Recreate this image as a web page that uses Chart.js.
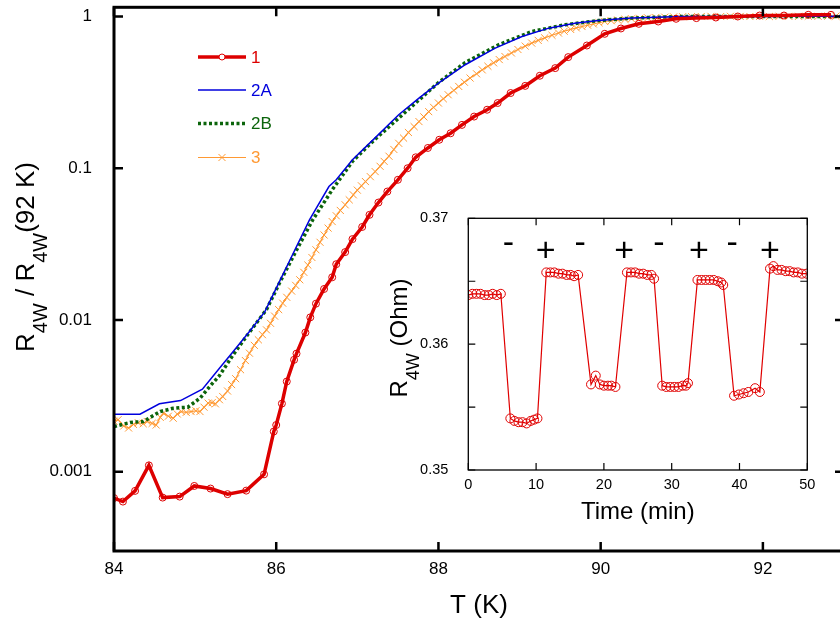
<!DOCTYPE html>
<html>
<head>
<meta charset="utf-8">
<title>R4W vs T</title>
<script src="https://cdn.jsdelivr.net/npm/chart.js@4.4.1/dist/chart.umd.min.js"></script>
<style>
  html, body { margin: 0; padding: 0; background: #fff; }
  #wrap { position: relative; width: 840px; height: 621px; overflow: hidden; background: #fff; }
  #main { position: absolute; left: 0; top: 0; width: 850px; height: 621px; }
  #inset { position: absolute; left: 380px; top: 200px; width: 440px; height: 340px; }
</style>
</head>
<body>
<div id="wrap">
  <canvas id="main" width="850" height="621"></canvas>
  <canvas id="inset" width="440" height="340"></canvas>
</div>
<script>
// ---- main plot: R4W / R4W(92 K) against T ----
const seriesNames = ['1', '2A', '2B', '3'];

const tempRed = [84.00, 84.11, 84.26, 84.43, 84.60, 84.81, 84.99, 85.19, 85.40, 85.63,
    85.85, 85.97, 86.00, 86.07, 86.13, 86.22, 86.25, 86.36, 86.42, 86.49,
    86.59, 86.69, 86.74, 86.85, 86.94, 87.06, 87.15, 87.26, 87.37, 87.50,
    87.62, 87.72, 87.87, 88.01, 88.15, 88.29, 88.44, 88.60, 88.73, 88.89,
    89.07, 89.25, 89.44, 89.60, 89.83, 90.05, 90.25, 90.47, 90.71, 90.93,
    91.18, 91.42, 91.69, 91.96, 92.26, 92.56, 92.84];
const ratioRed = [0.00067, 0.000635, 0.000747, 0.0011, 0.000675, 0.000685, 0.000805, 0.000774, 0.000711, 0.00075,
    0.00096, 0.00184, 0.00203, 0.00281, 0.00393, 0.00546, 0.0060, 0.00826, 0.0104, 0.0128,
    0.0160, 0.0191, 0.0233, 0.028, 0.0341, 0.041, 0.0493, 0.0594, 0.0702, 0.0839,
    0.100, 0.118, 0.136, 0.154, 0.170, 0.193, 0.219, 0.243, 0.269, 0.313,
    0.349, 0.407, 0.457, 0.54, 0.644, 0.769, 0.834, 0.895, 0.927, 0.966,
    0.976, 0.985, 1.0, 1.015, 1.015, 1.026, 1.026];

const tempBlue = [84.00, 84.32, 84.56, 84.82, 85.09, 85.30, 85.47, 85.67, 85.86, 86.04,
    86.18, 86.41, 86.65, 86.74, 86.94, 87.20, 87.51, 87.76, 88.00, 88.33,
    88.70, 89.03, 89.36, 89.68, 89.97, 90.38, 90.99, 91.50, 92.00, 92.50, 93.00];
const ratioBlue = [0.00239, 0.00239, 0.0028, 0.00294, 0.0035, 0.00481, 0.0062, 0.0084, 0.01135, 0.0179,
    0.0255, 0.0457, 0.0757, 0.0839, 0.1136, 0.155, 0.225, 0.290, 0.364, 0.481,
    0.619, 0.738, 0.838, 0.904, 0.94, 0.976, 1.0, 1.0, 1.002, 1.003, 1.003];

const tempGreen = [84.00, 84.20, 84.36, 84.57, 84.73, 84.91, 85.06, 85.18, 85.30, 85.47,
    85.67, 85.88, 86.04, 86.24, 86.45, 86.69, 86.94, 87.20, 87.51, 88.00,
    88.33, 88.74, 89.15, 89.56, 89.97, 90.38, 90.99, 91.50, 92.00, 92.50, 93.00];
const ratioGreen = [0.00198, 0.00211, 0.00214, 0.00249, 0.00262, 0.00266, 0.00305, 0.00364, 0.0043, 0.0059,
    0.0083, 0.0117, 0.0175, 0.0282, 0.0457, 0.072, 0.111, 0.152, 0.214, 0.367,
    0.497, 0.651, 0.796, 0.882, 0.94, 0.976, 1.0, 1.0, 1.0, 1.002, 1.002];

const tempOrange = [84.00, 84.05, 84.12, 84.18, 84.24, 84.30, 84.36, 84.41, 84.47, 84.52,
    84.57, 84.61, 84.67, 84.73, 84.78, 84.83, 84.89, 84.95, 85.01, 85.06,
    85.11, 85.16, 85.21, 85.25, 85.30, 85.34, 85.40, 85.45, 85.50, 85.56,
    85.62, 85.67, 85.73, 85.78, 85.83, 85.88, 85.93, 85.98, 86.03, 86.08,
    86.13, 86.19, 86.24, 86.29, 86.34, 86.39, 86.44, 86.49, 86.54, 86.59,
    86.64, 86.69, 86.74, 86.79, 86.85, 86.90, 86.95, 87.00, 87.05, 87.10,
    87.16, 87.22, 87.28, 87.33, 87.39, 87.45, 87.51, 87.57, 87.63, 87.70,
    87.76, 87.82, 87.88, 87.94, 88.00, 88.06, 88.12, 88.19, 88.25, 88.32,
    88.39, 88.47, 88.54, 88.61, 88.68, 88.75, 88.82, 88.90, 88.98, 89.07,
    89.15, 89.23, 89.31, 89.40, 89.48, 89.55, 89.63, 89.70, 89.77, 89.84,
    89.91, 89.98, 90.05, 90.13, 90.21, 90.30, 90.38, 90.48, 90.58, 90.68,
    90.79, 90.90, 91.01, 91.12, 91.24, 91.36, 91.48, 91.60, 91.72, 91.84,
    91.96, 92.08, 92.20, 92.32, 92.44, 92.56, 92.68, 92.80, 92.90];
const ratioOrange = [0.00215, 0.0022, 0.0020, 0.00194, 0.00205, 0.0021, 0.00207, 0.00214, 0.00208, 0.00203,
    0.00228, 0.00243, 0.00232, 0.00225, 0.0024, 0.00249, 0.00246, 0.00249, 0.00252, 0.00249,
    0.00266, 0.00283, 0.00285, 0.0028, 0.00298, 0.00313, 0.0034, 0.00375, 0.0041, 0.0047,
    0.0054, 0.00604, 0.0068, 0.0074, 0.008, 0.0086, 0.0095, 0.0106, 0.0117, 0.0129,
    0.0141, 0.0155, 0.0169, 0.0184, 0.0206, 0.023, 0.0258, 0.029, 0.0325, 0.0363,
    0.0403, 0.0445, 0.0486, 0.0527, 0.0574, 0.0619, 0.0668, 0.0717, 0.0766, 0.0817,
    0.088, 0.095, 0.103, 0.111, 0.120, 0.133, 0.146, 0.158, 0.172, 0.188,
    0.203, 0.218, 0.236, 0.252, 0.269, 0.287, 0.305, 0.326, 0.346, 0.369,
    0.393, 0.419, 0.445, 0.470, 0.495, 0.520, 0.545, 0.575, 0.606, 0.638,
    0.668, 0.696, 0.723, 0.752, 0.778, 0.800, 0.822, 0.841, 0.859, 0.876,
    0.893, 0.910, 0.927, 0.938, 0.948, 0.958, 0.966, 0.973, 0.979, 0.985,
    0.990, 0.994, 0.997, 0.999, 1.000, 1.002, 1.000, 1.003, 1.001, 1.000,
    1.002, 1.000, 1.004, 1.002, 1.003, 1.005, 1.004, 1.006, 1.005];

const xTicks = [84, 86, 88, 90, 92];
const xTickLabels = ['84', '86', '88', '90', '92'];
const yTicks = [0.001, 0.01, 0.1, 1];
const yTickLabels = ['0.001', '0.01', '0.1', '1'];

// ---- inset: R4W against time, field switched -/+ ----
const insetTime = [0, 0.6, 1.2, 1.8, 2.4, 3.0, 3.6, 4.2, 4.8,
    6.2, 6.8, 7.4, 8.0, 8.6, 9.2, 9.7, 10.2,
    11.5, 12.1, 12.7, 13.3, 13.9, 14.5, 15.1, 15.6, 16.2,
    18.1, 18.8, 19.4, 20.0, 20.6, 21.1, 21.7,
    23.4, 24.0, 24.6, 25.2, 25.8, 26.4, 27.0, 27.4,
    28.6, 29.2, 29.8, 30.4, 31.0, 31.6, 32.1, 32.4,
    33.8, 34.4, 35.0, 35.6, 36.2, 36.8, 37.3, 37.6,
    39.2, 39.9, 40.6, 41.3, 42.3, 43.0,
    44.5, 45.0, 45.6, 46.2, 46.8, 47.4, 48.0, 48.6, 49.2, 49.9];
const insetR = [0.3639, 0.3640, 0.3640, 0.3640, 0.3639, 0.3639, 0.3640, 0.3639, 0.3640,
    0.3541, 0.3539, 0.3538, 0.3538, 0.3537, 0.3539, 0.3540, 0.3541,
    0.3657, 0.3657, 0.3657, 0.3656, 0.3656, 0.3655, 0.3655, 0.3654, 0.3655,
    0.3568, 0.3575, 0.3568, 0.3567, 0.3567, 0.3567, 0.3566,
    0.3657, 0.3657, 0.3657, 0.3656, 0.3656, 0.3655, 0.3655, 0.3652,
    0.3567, 0.3566, 0.3566, 0.3566, 0.3566, 0.3567, 0.3567, 0.3569,
    0.3651, 0.3651, 0.3651, 0.3651, 0.3651, 0.3650, 0.3649, 0.3647,
    0.3559, 0.3560, 0.3561, 0.3562, 0.3565, 0.3562,
    0.3660, 0.3662, 0.3659, 0.3659, 0.3658, 0.3658, 0.3657, 0.3657, 0.3656, 0.3656];

const insetXTicks = [0, 10, 20, 30, 40, 50];
const insetXLabels = ['0', '10', '20', '30', '40', '50'];
const insetYTicks = [0.35, 0.355, 0.36, 0.365, 0.37];
const insetYLabels = ['0.35', '', '0.36', '', '0.37'];
const signTime = [5.9, 11.4, 16.5, 23.0, 28.1, 34.0, 38.9, 44.5];
const signText = ['-', '+', '-', '+', '-', '+', '-', '+'];

const FONT = "'Liberation Sans', Arial, Helvetica, sans-serif";
Chart.defaults.font.family = FONT;
Chart.defaults.color = '#000';

function toPoints(xs, ys) {
    return xs.map((x, i) => ({ x: x, y: ys[i] }));
}

// text with subscripts, rotated to read bottom-to-top, centred on (x, y)
function drawRotatedRich(ctx, parts, x, y, size) {
    const big = size + 'px ' + FONT;
    const small = Math.round(size * 0.75) + 'px ' + FONT;
    ctx.save();
    ctx.translate(x, y);
    ctx.rotate(-Math.PI / 2);
    let total = 0;
    parts.forEach(p => {
        ctx.font = p[1] ? small : big;
        total += ctx.measureText(p[0]).width;
    });
    let cx = -total / 2;
    ctx.fillStyle = '#000';
    ctx.textBaseline = 'alphabetic';
    ctx.textAlign = 'left';
    parts.forEach(p => {
        ctx.font = p[1] ? small : big;
        ctx.fillText(p[0], cx, p[1] ? size * 0.5 : 0);
        cx += ctx.measureText(p[0]).width;
    });
    ctx.restore();
}

// box round the plot with inward ticks on all four sides
const framePlugin = {
    id: 'frame',
    afterDatasetsDraw(chart, args, opts) {
        const { ctx, chartArea: a, scales } = chart;
        ctx.save();
        ctx.strokeStyle = '#000';
        ctx.lineWidth = opts.tickWidth;
        ctx.beginPath();
        opts.xTicks.forEach(v => {
            const px = scales.x.getPixelForValue(v);
            ctx.moveTo(px, a.bottom);
            ctx.lineTo(px, a.bottom - opts.tickLength);
            ctx.moveTo(px, a.top);
            ctx.lineTo(px, a.top + opts.tickLength);
        });
        opts.yTicks.forEach(v => {
            const py = scales.y.getPixelForValue(v);
            ctx.moveTo(a.left, py);
            ctx.lineTo(a.left + opts.tickLength, py);
            ctx.moveTo(a.right, py);
            ctx.lineTo(a.right - opts.tickLength, py);
        });
        ctx.stroke();
        ctx.lineWidth = opts.lineWidth;
        ctx.strokeRect(a.left, a.top, a.right - a.left, a.bottom - a.top);
        ctx.restore();
    }
};

// key in the upper left of the main plot
const keyPlugin = {
    id: 'key',
    afterDatasetsDraw(chart, args, opts) {
        const ctx = chart.ctx;
        ctx.save();
        chart.data.datasets.forEach((ds, i) => {
            const y = opts.rows[i];
            const mid = (opts.x0 + opts.x1) / 2;
            ctx.strokeStyle = ds.borderColor;
            ctx.lineWidth = ds.borderWidth;
            ctx.setLineDash(ds.borderDash || []);
            ctx.beginPath();
            ctx.moveTo(opts.x0, y);
            ctx.lineTo(opts.x1, y);
            ctx.stroke();
            ctx.setLineDash([]);
            if (ds.pointRadius > 0) {
                ctx.fillStyle = '#fff';
                ctx.strokeStyle = ds.borderColor;
                ctx.lineWidth = ds.pointBorderWidth;
                Chart.helpers.drawPoint(ctx, {
                    pointStyle: ds.pointStyle,
                    radius: ds.pointStyle === 'circle' ? 3 : 5,
                    borderWidth: ds.pointBorderWidth
                }, mid, y);
            }
            ctx.fillStyle = ds.borderColor;
            ctx.font = opts.fontSize + 'px ' + FONT;
            ctx.textAlign = 'left';
            ctx.textBaseline = 'middle';
            ctx.fillText(ds.label, opts.textX, y + 1);
        });
        ctx.restore();
    }
};

const mainTitlePlugin = {
    id: 'mainTitle',
    afterDraw(chart) {
        drawRotatedRich(chart.ctx,
            [['R', false], ['4W', true], [' / R', false], ['4W', true], ['(92 K)', false]],
            34, 257, 26);
    }
};

new Chart(document.getElementById('main'), {
    type: 'line',
    data: {
        datasets: [
            {
                label: seriesNames[0],
                data: toPoints(tempRed, ratioRed),
                borderColor: '#dd0000',
                borderWidth: 3.5,
                pointStyle: 'circle',
                pointRadius: 3.5,
                pointBorderWidth: 1,
                pointBorderColor: '#dd0000',
                pointBackgroundColor: 'rgba(0,0,0,0)'
            },
            {
                label: seriesNames[1],
                data: toPoints(tempBlue, ratioBlue),
                borderColor: '#0000dd',
                borderWidth: 1.5,
                pointRadius: 0
            },
            {
                label: seriesNames[2],
                data: toPoints(tempGreen, ratioGreen),
                borderColor: '#0b640b',
                borderWidth: 3.5,
                borderDash: [3, 2.5],
                pointRadius: 0
            },
            {
                label: seriesNames[3],
                data: toPoints(tempOrange, ratioOrange),
                borderColor: '#ff9933',
                borderWidth: 1.2,
                pointStyle: 'crossRot',
                pointRadius: 5,
                pointBorderWidth: 1,
                pointBorderColor: '#ff9933'
            }
        ]
    },
    options: {
        responsive: false,
        animation: false,
        layout: { padding: { top: 7.3, right: 3.4, left: 0, bottom: 0 } },
        elements: { line: { tension: 0, fill: false } },
        scales: {
            x: {
                type: 'linear',
                min: 84,
                max: 93,
                afterBuildTicks: s => { s.ticks = xTicks.map(v => ({ value: v })); },
                afterFit: s => { s.height = 70; s.paddingLeft = 0; s.paddingRight = 0; },
                grid: { display: false },
                border: { display: false },
                ticks: {
                    padding: 0,
                    autoSkip: false,
                    maxRotation: 0,
                    font: { size: 17 },
                    callback: (v, i) => xTickLabels[i]
                },
                title: { display: true, text: 'T (K)', font: { size: 26 }, padding: { top: 0, bottom: 0 } }
            },
            y: {
                type: 'logarithmic',
                min: 0.0003,
                max: 1.15,
                afterBuildTicks: s => { s.ticks = yTicks.map(v => ({ value: v })); },
                afterFit: s => { s.width = 114; s.paddingTop = 0; s.paddingBottom = 0; },
                grid: { display: false },
                border: { display: false },
                ticks: {
                    padding: 14,
                    autoSkip: false,
                    font: { size: 17 },
                    callback: (v, i) => yTickLabels[i]
                }
            }
        },
        plugins: {
            legend: { display: false },
            tooltip: { enabled: false },
            frame: { lineWidth: 3, tickWidth: 2.5, tickLength: 9, xTicks: xTicks, yTicks: yTicks },
            key: { x0: 198, x1: 246, textX: 251, rows: [57, 90, 123.5, 157.5], fontSize: 17 }
        }
    },
    plugins: [framePlugin, keyPlugin, mainTitlePlugin]
});

// ---- inset chart ----
const signPlugin = {
    id: 'signs',
    afterDatasetsDraw(chart) {
        const { ctx, chartArea: a, scales } = chart;
        ctx.save();
        ctx.fillStyle = '#000';
        ctx.font = '34px ' + FONT;
        ctx.textAlign = 'center';
        ctx.textBaseline = 'alphabetic';
        signText.forEach((s, i) => {
            const px = scales.x.getPixelForValue(signTime[i]);
            ctx.fillText(s, px, a.top + (s === '+' ? 43 : 34.5));
        });
        ctx.restore();
    }
};

const insetTitlePlugin = {
    id: 'insetTitle',
    afterDraw(chart) {
        drawRotatedRich(chart.ctx,
            [['R', false], ['4W', true], [' (Ohm)', false]],
            27, 138, 24);
    }
};

new Chart(document.getElementById('inset'), {
    type: 'line',
    data: {
        datasets: [{
            label: 'R4W',
            data: toPoints(insetTime, insetR),
            borderColor: '#e00000',
            borderWidth: 1.2,
            pointStyle: 'circle',
            pointRadius: 4.5,
            pointBorderWidth: 1,
            pointBorderColor: '#e00000',
            pointBackgroundColor: 'rgba(0,0,0,0)'
        }]
    },
    options: {
        responsive: false,
        animation: false,
        layout: { padding: { top: 18.3, right: 12.7, left: 0, bottom: 0 } },
        elements: { line: { tension: 0, fill: false } },
        scales: {
            x: {
                type: 'linear',
                min: 0,
                max: 50,
                afterBuildTicks: s => { s.ticks = insetXTicks.map(v => ({ value: v })); },
                afterFit: s => { s.height = 70; s.paddingLeft = 0; s.paddingRight = 0; },
                grid: { display: false },
                border: { display: false },
                ticks: {
                    padding: -2,
                    autoSkip: false,
                    maxRotation: 0,
                    font: { size: 14.5 },
                    callback: (v, i) => insetXLabels[i]
                },
                title: { display: true, text: 'Time (min)', font: { size: 24 }, padding: { top: 0, bottom: 13 } }
            },
            y: {
                type: 'linear',
                min: 0.35,
                max: 0.37,
                afterBuildTicks: s => { s.ticks = insetYTicks.map(v => ({ value: v })); },
                afterFit: s => { s.width = 88.3; s.paddingTop = 0; s.paddingBottom = 0; },
                grid: { display: false },
                border: { display: false },
                ticks: {
                    padding: 12,
                    autoSkip: false,
                    font: { size: 14.5 },
                    callback: (v, i) => insetYLabels[i]
                }
            }
        },
        plugins: {
            legend: { display: false },
            tooltip: { enabled: false },
            frame: { lineWidth: 1.3, tickWidth: 1.2, tickLength: 7, xTicks: insetXTicks, yTicks: insetYTicks }
        }
    },
    plugins: [framePlugin, signPlugin, insetTitlePlugin]
});
</script>
</body>
</html>
